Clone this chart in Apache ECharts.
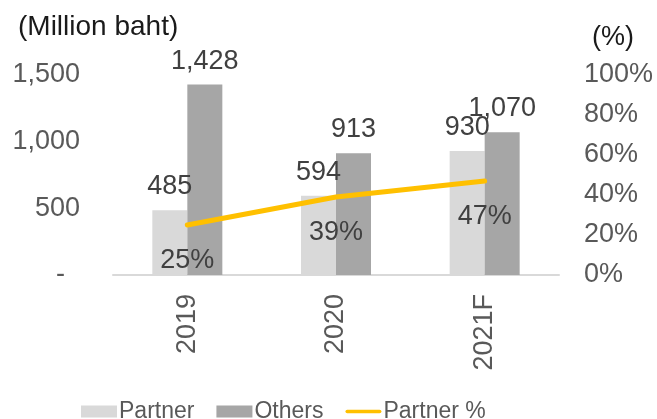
<!DOCTYPE html>
<html>
<head>
<meta charset="utf-8">
<script src="https://cdn.jsdelivr.net/npm/echarts@6/dist/echarts.min.js"></script>
<style>
  html, body { margin: 0; padding: 0; background: #fff; }
  #chart { width: 657px; height: 419px; }
</style>
</head>
<body>
<div id="chart"></div>
<script>
const years = ['2019', '2020', '2021F'];
const partner = [485, 594, 930];
const others = [1428, 913, 1070];
const partnerPct = [25, 39, 47];

const font = 'Liberation Sans, Arial, sans-serif';
const labelColor = '#404040';
const axisColor = '#595959';

const chart = echarts.init(document.getElementById('chart'));

chart.setOption({
  animation: false,
  textStyle: { fontFamily: font },
  title: [
    {
      text: '(Million baht)',
      left: 13,
      top: 8,
      textStyle: { fontFamily: font, fontSize: 28, fontWeight: 'normal', color: '#1a1a1a' }
    },
    {
      text: '(%)',
      left: 587,
      top: 19,
      textStyle: { fontFamily: font, fontSize: 27, fontWeight: 'normal', color: '#1a1a1a' }
    }
  ],
  grid: {
    left: 113,
    right: 98,
    top: 75,
    bottom: 144
  },
  legend: {
    left: 76,
    top: 395,
    itemWidth: 36,
    itemHeight: 12,
    itemGap: 22,
    textStyle: { fontFamily: font, fontSize: 23, color: axisColor, padding: [0, 0, 0, -3] },
    data: [
      { name: 'Partner', icon: 'rect' },
      { name: 'Others', icon: 'rect' },
      { name: 'Partner %', icon: 'path://M2,0 L38,0 A2,2 0 0 1 38,4 L2,4 A2,2 0 0 1 2,0 Z' }
    ]
  },
  xAxis: {
    type: 'category',
    data: years,
    axisLine: { lineStyle: { color: '#d9d9d9', width: 2 } },
    axisTick: { show: false },
    axisLabel: {
      rotate: 90,
      margin: 19,
      fontFamily: font,
      fontSize: 27,
      color: axisColor
    }
  },
  yAxis: [
    {
      type: 'value',
      min: 0,
      max: 1500,
      interval: 500,
      splitLine: { show: false },
      axisLine: { show: false },
      axisTick: { show: false },
      axisLabel: {
        margin: 33,
        fontFamily: font,
        fontSize: 27,
        color: axisColor,
        formatter: (v) => (v === 0 ? '-  ' : v.toLocaleString('en-US'))
      }
    },
    {
      type: 'value',
      min: 0,
      max: 100,
      interval: 20,
      splitLine: { show: false },
      axisLine: { show: false },
      axisTick: { show: false },
      axisLabel: {
        margin: 25,
        fontFamily: font,
        fontSize: 27,
        color: axisColor,
        formatter: '{value}%'
      }
    }
  ],
  series: [
    {
      name: 'Partner',
      type: 'bar',
      data: partner,
      barWidth: 35,
      barGap: '0%',
      itemStyle: { color: '#d9d9d9' },
      label: {
        show: true,
        position: 'top',
        distance: 10,
        fontFamily: font,
        fontSize: 27,
        color: labelColor
      }
    },
    {
      name: 'Others',
      type: 'bar',
      data: others,
      barWidth: 35,
      barGap: '0%',
      itemStyle: { color: '#a6a6a6' },
      label: {
        show: true,
        position: 'top',
        distance: 10,
        fontFamily: font,
        fontSize: 27,
        color: labelColor,
        formatter: (p) => p.value.toLocaleString('en-US')
      }
    },
    {
      name: 'Partner %',
      type: 'line',
      yAxisIndex: 1,
      data: partnerPct,
      symbol: 'circle',
      symbolSize: 1,
      showSymbol: true,
      lineStyle: { color: '#ffc000', width: 5, cap: 'round' },
      itemStyle: { color: '#ffc000' },
      label: {
        show: true,
        position: 'bottom',
        distance: 22,
        fontFamily: font,
        fontSize: 27,
        color: labelColor,
        formatter: '{c}%'
      },
      z: 3
    }
  ]
});
</script>
</body>
</html>
